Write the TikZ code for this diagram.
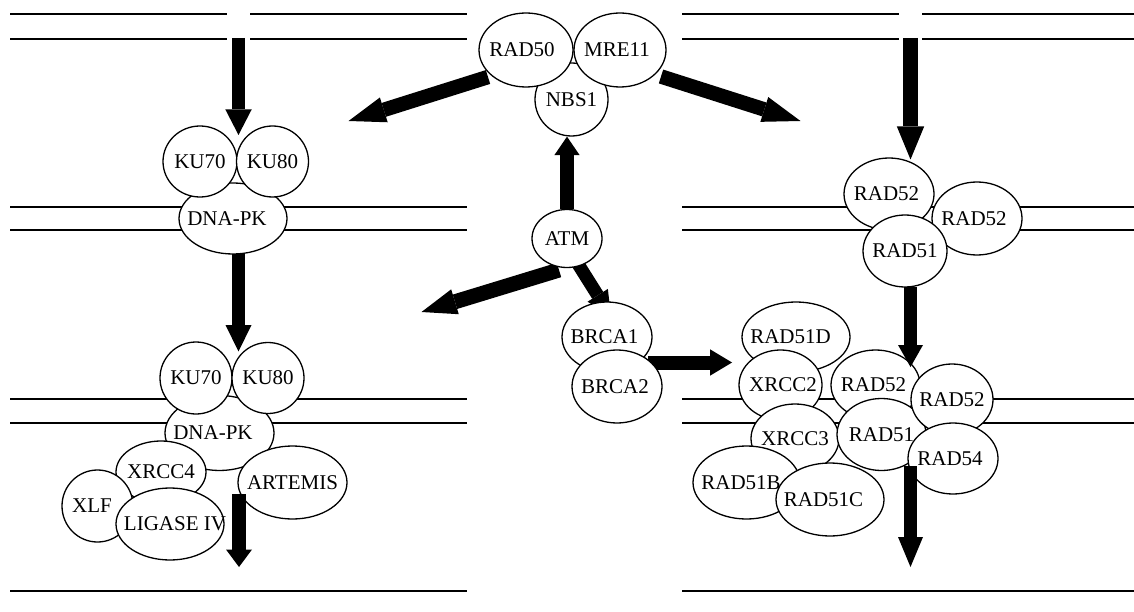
\documentclass[tikz,border=0pt]{standalone}
\usepackage{fontspec}
\setmainfont{Liberation Serif}
\usetikzlibrary{shapes.geometric,arrows.meta}
\pgfdeclarelayer{background}
\pgfsetlayers{background,main}
% centred label of zero width; optional argument = twice the horizontal shift
\newcommand\lbl[2][0pt]{\makebox[0pt]{\hspace*{#1}#2}}

\begin{document}
\begin{tikzpicture}[x=1pt,y=-1pt,
  strand/.style={line width=1.3pt},
  prot/.style={ellipse,draw,fill=white,line width=1.3pt,inner sep=0pt,
               font=\fontsize{21}{25}\selectfont},
  esz/.style 2 args={minimum width=#1pt,minimum height=#2pt},
  blk/.style 2 args={line width=13.5pt,
               -{Triangle[width=#1pt,length=#2pt,line width=0pt]}},
]
\useasboundingbox (0,0) rectangle (1134,612);

% ---------------- DNA double strands ----------------
\begin{pgfonlayer}{background}
\draw[strand] (10,14) -- (227,14) (250,14) -- (467,14)
              (10,39) -- (227,39) (250,39) -- (467,39)
              (682,14) -- (899,14) (922,14) -- (1134,14)
              (682,39) -- (899,39) (922,39) -- (1134,39);
\draw[strand] (10,207) -- (467,207) (10,230) -- (467,230)
              (682,207) -- (1134,207) (682,230) -- (1134,230);
\draw[strand] (10,399) -- (467,399) (10,423) -- (467,423)
              (682,399) -- (1134,399) (682,423) -- (1134,423);
\draw[strand] (10,591) -- (467,591) (682,591) -- (1134,591);
\end{pgfonlayer}

% ---------------- NHEJ: first complex ----------------
\node[prot,esz={108}{71}] (dnapkA) at (233,218.5) {\lbl[-12pt]{DNA-PK}};
\node[prot,esz={74}{71}]  (ku70A)  at (200,161.5) {\lbl{KU70}};
\node[prot,esz={72}{71}]  (ku80A)  at (272.5,161.5) {\lbl{KU80}};

% ---------------- NHEJ: ligation complex ----------------
\node[prot,esz={109}{75}] (dnapkB) at (219.5,433) {\lbl[-13pt]{DNA-PK}};
\node[prot,esz={72}{72}]  (ku70B)  at (196,378) {\lbl{KU70}};
\node[prot,esz={72}{71}]  (ku80B)  at (268,378) {\lbl{KU80}};
\node[prot,esz={90}{62}]  (xrcc4)  at (161,472) {\lbl{XRCC4}};
\node[prot,esz={71}{72}]  (xlf)    at (97.5,506) {\lbl[-11pt]{XLF}};
\node[prot,esz={108}{72}] (ligase) at (170,524) {\lbl[10pt]{LIGASE IV}};
\node[prot,esz={109}{73}] (artemis) at (292.5,482.5) {\lbl{ARTEMIS}};

% ---------------- sensors and mediators ----------------
\node[prot,esz={73}{73}]  (nbs1)  at (571.5,99.5) {\lbl{NBS1}};
\node[prot,esz={94}{74}]  (rad50) at (526,50) {\lbl[-8pt]{RAD50}};
\node[prot,esz={92}{74}]  (mre11) at (620,50) {\lbl[-6pt]{MRE11}};
\node[prot,esz={70}{58}]  (atm)   at (567,238.5) {\lbl{ATM}};
\node[prot,esz={90}{70}]  (brca1) at (607,337) {\lbl[-5pt]{BRCA1}};
\node[prot,esz={90}{73}]  (brca2) at (617,386.5) {\lbl[-4pt]{BRCA2}};

% ---------------- HR: strand invasion ----------------
\node[prot,esz={90}{72}]  (rad52a) at (889,194) {\lbl[-5pt]{RAD52}};
\node[prot,esz={90}{73}]  (rad52b) at (977,218.5) {\lbl[-6pt]{RAD52}};
\node[prot,esz={84}{72}]  (rad51a) at (905,251) {\lbl{RAD51}};

% ---------------- HR: paralog complex ----------------
\node[prot,esz={108}{70}] (rad51d) at (796,337) {\lbl[-11pt]{RAD51D}};
\node[prot,esz={83}{70}]  (xrcc2)  at (780.5,385) {\lbl[5pt]{XRCC2}};
\node[prot,esz={89}{70}]  (rad52c) at (875.5,385) {\lbl[-4pt]{RAD52}};
\node[prot,esz={88}{69}]  (xrcc3)  at (795,438.5) {\lbl{XRCC3}};
\node[prot,esz={89}{72}]  (rad51b) at (881.5,434.5) {\lbl{RAD51}};
\node[prot,esz={82}{71}]  (rad52d) at (952,399.5) {\lbl{RAD52}};
\node[prot,esz={107}{73}] (rad51bb) at (746.5,482.5) {\lbl[-11pt]{RAD51B}};
\node[prot,esz={108}{73}] (rad51c) at (830,499.5) {\lbl[-13pt]{RAD51C}};
\node[prot,esz={90}{71}]  (rad54)  at (953,458.5) {\lbl[-6pt]{RAD54}};

% ---------------- arrow end points ----------------
\coordinate (a1s) at (238.5,38);   \coordinate (a1e) at (238.5,135);
\coordinate (a2s) at (238.5,250);  \coordinate (a2e) at (238.5,351.5);
\coordinate (a3s) at (239,494);    \coordinate (a3e) at (239,567);
\coordinate (a4s) at (488,77);     \coordinate (a4e) at (348.5,121);
\coordinate (a5s) at (661,76.5);   \coordinate (a5e) at (800.5,121);
\coordinate (a7s) at (559,270);    \coordinate (a7e) at (421.5,312);
\coordinate (a8s) at (578,264);    \coordinate (a8e) at (611,316.5);
\coordinate (a9s) at (648,362.5);  \coordinate (a9e) at (732,362.5);
\coordinate (a10s) at (910.5,38);  \coordinate (a10e) at (910.5,159.5);
\coordinate (a11s) at (910.5,287); \coordinate (a11e) at (910.5,367);
\coordinate (a12s) at (910.5,466); \coordinate (a12e) at (910.5,567);

% arrows that start underneath a protein
\begin{pgfonlayer}{background}
\draw[blk={26}{26.5},line width=13.3pt] (a2s) -- (a2e);
\draw[blk={26}{37},line width=14.5pt] (a4s) -- (a4e);
\draw[blk={26}{38},line width=14.5pt] (a5s) -- (a5e);
\draw[blk={25.3}{18.5},line width=13.3pt] (atm.north) -- (atm.north |- nbs1.south);
\draw[blk={26}{35},line width=15pt] (a7s) -- (a7e);
\draw[blk={24}{25},line width=13pt] (a8s) -- (a8e);
\draw[blk={26.4}{22},line width=14pt] (a9s) -- (a9e);
\end{pgfonlayer}

% arrows drawn over the proteins
\draw[blk={26.5}{25.7},line width=13pt] (a1s) -- (a1e);
\draw[blk={26}{17.5},line width=14pt] (a3s) -- (a3e);
\draw[blk={27.3}{33},line width=15pt] (a10s) -- (a10e);
\draw[blk={25}{22},line width=13.3pt] (a11s) -- (a11e);
\draw[blk={25}{30},line width=13.3pt] (a12s) -- (a12e);
\end{tikzpicture}
\end{document}
